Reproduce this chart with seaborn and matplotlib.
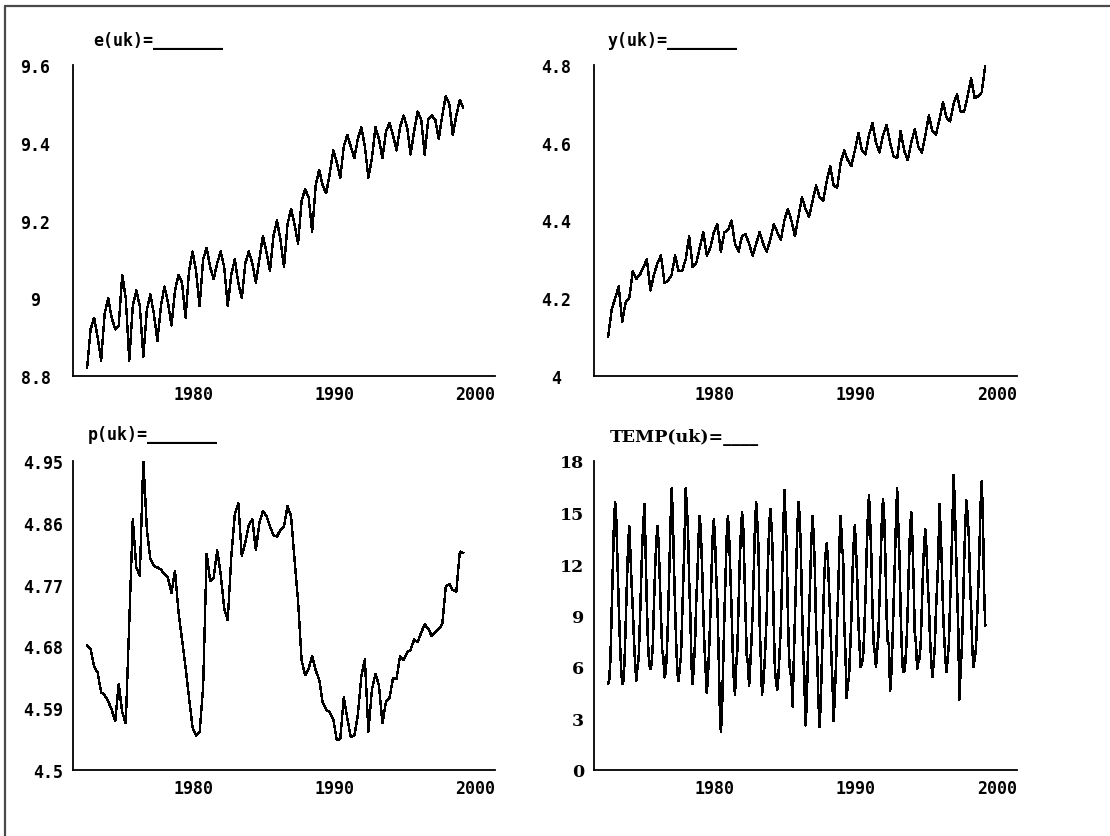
import numpy as np
import pandas as pd
import matplotlib
matplotlib.use("Agg")
import matplotlib.pyplot as plt
import seaborn as sns
from matplotlib.ticker import FixedLocator, FixedFormatter, NullFormatter
from matplotlib.transforms import ScaledTranslation, blended_transform_factory
from matplotlib.lines import Line2D
from matplotlib.font_manager import FontProperties

# ---------------- data ----------------
quarter_start = "1971Q1"
month_start = "1971-01"

e_uk = [8.82, 8.92, 8.95, 8.90, 8.84, 8.96, 9.00, 8.95, 8.92, 8.93, 9.06, 9.00,
        8.84, 8.98, 9.02, 8.98, 8.85, 8.97, 9.01, 8.96, 8.89, 8.98, 9.03, 8.99,
        8.93, 9.02, 9.06, 9.04, 8.95, 9.07, 9.12, 9.07, 8.98, 9.10, 9.13, 9.08,
        9.05, 9.09, 9.12, 9.08, 8.98, 9.06, 9.10, 9.04, 9.00, 9.09, 9.12, 9.09,
        9.04, 9.10, 9.16, 9.12, 9.07, 9.16, 9.20, 9.15, 9.08, 9.19, 9.23, 9.19,
        9.14, 9.25, 9.28, 9.26, 9.17, 9.29, 9.33, 9.29, 9.27, 9.32, 9.38, 9.35,
        9.31, 9.39, 9.42, 9.39, 9.36, 9.41, 9.44, 9.39, 9.31, 9.36, 9.44, 9.41,
        9.36, 9.43, 9.45, 9.42, 9.38, 9.44, 9.47, 9.44, 9.37, 9.43, 9.48, 9.46,
        9.37, 9.46, 9.47, 9.46, 9.41, 9.47, 9.52, 9.50, 9.42, 9.47, 9.51, 9.49]

y_uk = [4.10, 4.17, 4.20, 4.23, 4.14, 4.19, 4.20, 4.27, 4.25, 4.26, 4.28, 4.30,
        4.22, 4.26, 4.29, 4.31, 4.24, 4.245, 4.26, 4.31, 4.27, 4.27, 4.30, 4.36,
        4.28, 4.29, 4.33, 4.37, 4.31, 4.33, 4.37, 4.39, 4.32, 4.37, 4.375, 4.40,
        4.34, 4.32, 4.36, 4.365, 4.34, 4.31, 4.34, 4.37, 4.34, 4.32, 4.35, 4.39,
        4.37, 4.35, 4.40, 4.43, 4.40, 4.36, 4.41, 4.46, 4.43, 4.41, 4.45, 4.49,
        4.46, 4.45, 4.50, 4.54, 4.49, 4.485, 4.55, 4.58, 4.555, 4.54, 4.58, 4.625,
        4.58, 4.57, 4.62, 4.65, 4.60, 4.575, 4.62, 4.645, 4.60, 4.565, 4.56, 4.63,
        4.58, 4.555, 4.60, 4.635, 4.59, 4.575, 4.62, 4.67, 4.63, 4.62, 4.66, 4.705,
        4.665, 4.655, 4.70, 4.725, 4.68, 4.68, 4.72, 4.765, 4.715, 4.72, 4.73, 4.80]

p_uk = [4.682, 4.676, 4.651, 4.642, 4.613, 4.609, 4.600, 4.588, 4.571, 4.625, 4.584, 4.568,
        4.715, 4.865, 4.795, 4.783, 4.952, 4.850, 4.807, 4.797, 4.795, 4.792, 4.785, 4.780,
        4.758, 4.790, 4.730, 4.690, 4.650, 4.605, 4.562, 4.550, 4.555, 4.620, 4.815, 4.775,
        4.780, 4.820, 4.785, 4.735, 4.718, 4.810, 4.872, 4.888, 4.812, 4.831, 4.857, 4.865,
        4.820, 4.860, 4.877, 4.870, 4.855, 4.842, 4.840, 4.850, 4.855, 4.884, 4.870, 4.806,
        4.746, 4.660, 4.638, 4.647, 4.666, 4.645, 4.632, 4.598, 4.588, 4.584, 4.574, 4.544,
        4.545, 4.606, 4.575, 4.548, 4.550, 4.580, 4.637, 4.661, 4.556, 4.617, 4.640, 4.623,
        4.568, 4.600, 4.605, 4.634, 4.633, 4.666, 4.660, 4.671, 4.675, 4.690, 4.686, 4.700,
        4.712, 4.706, 4.695, 4.701, 4.705, 4.712, 4.767, 4.771, 4.762, 4.760, 4.818, 4.816]

temp_uk = [5.0, 5.3, 6.5, 9.2, 11.8, 14.4, 15.6, 14.5, 12.0, 9.7, 7.6, 6.0,
           5.0, 5.2, 6.3, 8.7, 10.9, 13.0, 14.2, 12.6, 10.8, 9.4, 7.6, 6.2,
           5.2, 6.0, 6.5, 8.5, 10.8, 13.0, 14.4, 15.5, 12.5, 9.5, 7.3, 6.2,
           5.9, 6.2, 7.2, 9.6, 11.7, 13.3, 14.2, 13.2, 11.0, 9.0, 7.0, 6.6,
           5.4, 5.7, 6.8, 8.8, 11.5, 14.0, 16.4, 15.0, 12.0, 9.5, 7.3, 5.6,
           5.2, 6.0, 6.6, 8.8, 11.2, 13.3, 16.4, 15.3, 14.0, 11.0, 9.0, 6.1,
           5.0, 6.2, 7.4, 9.8, 11.3, 13.6, 14.8, 13.7, 11.8, 9.2, 7.2, 5.8,
           4.5, 5.5, 7.1, 9.0, 11.5, 13.6, 14.6, 13.4, 11.3, 9.8, 7.0, 3.8,
           2.2, 3.6, 6.4, 9.1, 11.5, 13.7, 14.8, 13.6, 11.6, 9.5, 7.0, 5.3,
           4.4, 6.1, 7.0, 9.6, 12.1, 13.8, 15.0, 14.1, 11.7, 9.0, 6.7, 6.2,
           4.9, 6.2, 7.5, 9.2, 11.8, 14.2, 15.6, 14.4, 12.9, 8.5, 6.5, 4.4,
           5.0, 6.0, 7.4, 9.1, 12.0, 14.0, 15.2, 14.3, 12.8, 8.4, 5.8, 5.1,
           4.7, 5.5, 7.0, 8.4, 11.1, 13.6, 16.3, 14.6, 13.0, 9.1, 6.6, 5.6,
           5.5, 3.7, 6.3, 8.9, 11.5, 14.0, 15.6, 14.8, 12.9, 9.6, 7.0, 5.4,
           2.6, 3.8, 6.5, 8.9, 11.1, 13.4, 14.8, 13.6, 11.6, 8.3, 6.6, 4.0,
           2.5, 4.1, 6.6, 8.9, 11.3, 12.5, 13.2, 12.4, 10.6, 8.9, 6.7, 5.0,
           2.85, 4.6, 6.2, 8.9, 10.8, 13.4, 14.8, 13.0, 12.5, 8.5, 6.8, 4.2,
           5.0, 5.4, 7.0, 8.8, 11.5, 13.2, 14.25, 12.8, 11.2, 8.6, 7.2, 6.0,
           6.2, 6.6, 8.0, 10.0, 12.6, 14.6, 16.0, 14.5, 12.5, 9.3, 7.4, 6.8,
           6.0, 7.0, 7.8, 10.0, 12.1, 14.6, 15.8, 14.6, 12.3, 9.0, 7.5, 7.3,
           4.6, 5.6, 7.4, 9.6, 12.0, 14.5, 16.4, 14.2, 12.4, 9.1, 7.0, 5.7,
           5.7, 6.3, 7.4, 9.4, 12.0, 14.0, 15.0, 13.4, 11.0, 8.0, 7.4, 5.9,
           6.3, 6.5, 7.3, 9.5, 11.6, 13.2, 14.0, 12.8, 11.0, 9.6, 7.6, 6.4,
           5.4, 6.2, 7.1, 9.2, 10.8, 12.3, 15.5, 14.0, 12.0, 9.4, 7.8, 6.5,
           5.7, 6.5, 7.3, 9.6, 11.9, 14.2, 17.2, 15.6, 13.0, 10.6, 8.2, 4.1,
           5.9, 7.0, 9.3, 12.1, 14.3, 15.7, 14.8, 13.6, 11.0, 9.4, 7.0, 6.0,
           6.5, 7.0, 8.8, 10.6, 12.8, 15.4, 16.8, 14.6, 10.5, 8.4]

titles = ["e(uk)=_______", "y(uk)=_______", "p(uk)=_______", "TEMP(uk)=____"]

e_yticks = [8.8, 9.0, 9.2, 9.4, 9.6]
e_ylabels = ["8.8", "9", "9.2", "9.4", "9.6"]
y_yticks = [4.0, 4.2, 4.4, 4.6, 4.8]
y_ylabels = ["4", "4.2", "4.4", "4.6", "4.8"]
p_yticks = [4.5, 4.59, 4.68, 4.77, 4.86, 4.95]
p_ylabels = ["4.5", "4.59", "4.68", "4.77", "4.86", "4.95"]
t_yticks = [0, 3, 6, 9, 12, 15, 18]
t_ylabels = ["0", "3", "6", "9", "12", "15", "18"]

x_major = [1980, 1990, 2000]
x_labels = ["1980", "1990", "2000"]
x_minor = [1972, 1974, 1976, 1978, 1982, 1984, 1986, 1988, 1992, 1994, 1996, 1998]

# ---------------- time axes ----------------
qp = pd.period_range(quarter_start, periods=len(e_uk), freq="Q")
t_q = qp.year + (qp.quarter - 1) / 4.0
mp = pd.period_range(month_start, periods=len(temp_uk), freq="M")
t_m = mp.year + (mp.month - 1) / 12.0

frames = [
    pd.DataFrame({"t": t_q, "v": e_uk}),
    pd.DataFrame({"t": t_q, "v": y_uk}),
    pd.DataFrame({"t": t_q, "v": p_uk}),
    pd.DataFrame({"t": t_m, "v": temp_uk}),
]

sns.set_style("white")
plt.rcParams["font.family"] = ["DejaVu Sans Mono", "DejaVu Sans"]

mono_fp = lambda size: FontProperties(family="DejaVu Sans Mono", weight="bold", size=size)
serif_fp = lambda size: FontProperties(family="DejaVu Serif", weight="bold", size=size)

W, H = 1110, 837
fig = plt.figure(figsize=(W / 100, H / 100), dpi=100)
fig.patch.set_facecolor("white")

# panel boxes in pixels: left, top, right, bottom
boxes = [(73, 66, 495, 377), (594, 66, 1017, 377),
         (73, 462, 495, 771), (594, 462, 1017, 771)]
ylims = [(8.8, 9.6), (4.0, 4.8), (4.5, 4.95), (0, 18)]
yticks = [e_yticks, y_yticks, p_yticks, t_yticks]
ylabs = [e_ylabels, y_ylabels, p_ylabels, t_ylabels]
title_pos = [(93, 46), (608, 46), (88, 440), (610, 442)]
line_w = [1.0, 1.0, 1.0, 1.1]

pix = fig.dpi_scale_trans
for i, (df, box) in enumerate(zip(frames, boxes)):
    l, t, r, b = box
    ax = fig.add_axes([l / W, 1 - b / H, (r - l) / W, (b - t) / H])
    sns.lineplot(data=df, x="t", y="v", ax=ax, color="black", linewidth=line_w[i],
                 estimator=None, sort=False)
    for ln in ax.get_lines():
        ln.set_antialiased(False)
    ax.set_xlabel("")
    ax.set_ylabel("")
    ax.set_xlim(1970, 2000)
    ax.set_ylim(*ylims[i])
    ax.set_facecolor("white")
    for s in ["top", "right"]:
        ax.spines[s].set_visible(False)
    for s in ["left", "bottom"]:
        ax.spines[s].set_color("black")
        ax.spines[s].set_linewidth(1.3)

    # y ticks
    yt = yticks[i]
    ymin = [(a + c) / 2 for a, c in zip(yt[:-1], yt[1:])]
    ax.yaxis.set_major_locator(FixedLocator(yt))
    ax.yaxis.set_minor_locator(FixedLocator(ymin))
    ax.yaxis.set_major_formatter(FixedFormatter(ylabs[i]))
    ax.yaxis.set_minor_formatter(NullFormatter())
    # x ticks
    ax.xaxis.set_major_locator(FixedLocator(x_major))
    ax.xaxis.set_minor_locator(FixedLocator(x_minor))
    ax.xaxis.set_major_formatter(NullFormatter())
    ax.xaxis.set_minor_formatter(NullFormatter())

    ax.tick_params(axis="y", which="both", direction="in", length=5, width=1.2, color="black")
    ax.tick_params(axis="x", which="minor", direction="in", length=4.5, width=1.2, color="black")
    ax.tick_params(axis="x", which="major", direction="in", length=8, width=1.2, color="black")

    serif = (i == 3)
    yfp = serif_fp(12.5) if serif else mono_fp(12)
    if i in (0, 1):
        ax.tick_params(axis="y", which="major", pad=27)
        for lab in ax.get_yticklabels():
            lab.set_ha("center")
    else:
        ax.tick_params(axis="y", which="major", pad=7)
    for lab in ax.get_yticklabels():
        lab.set_fontproperties(yfp)
        lab.set_color("black")

    # x tick labels as text placed under their tick
    trans = blended_transform_factory(ax.transData, ax.transAxes) + \
        ScaledTranslation(-20 / 100, -9 / 100, pix)
    for xv, xl in zip(x_major, x_labels):
        ax.text(xv, 0, xl, transform=trans, ha="center", va="top",
                fontproperties=mono_fp(12), color="black", clip_on=False)

    tx, ty = title_pos[i]
    fig.text(tx / W, 1 - ty / H, titles[i], ha="left", va="baseline",
             fontproperties=(serif_fp(12.5) if serif else mono_fp(12)),
             color="black")

# window-like border: top and left edges
fig.add_artist(Line2D([5 / W, 1], [1 - 7 / H, 1 - 7 / H], transform=fig.transFigure,
                      color="#4a4a4a", linewidth=1.6))
fig.add_artist(Line2D([5 / W, 5 / W], [0, 1 - 7 / H], transform=fig.transFigure,
                      color="#4a4a4a", linewidth=1.6))

fig.savefig("out.png", dpi=100, facecolor="white")
